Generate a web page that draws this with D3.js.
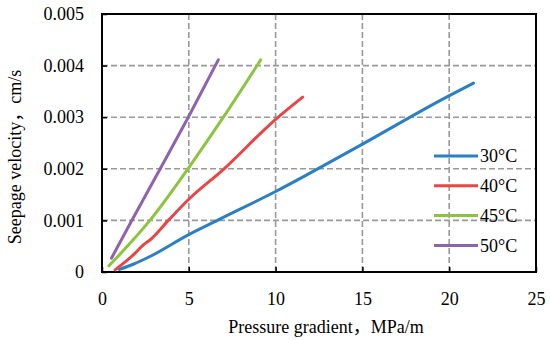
<!DOCTYPE html>
<html>
<head>
<meta charset="utf-8">
<script src="https://cdn.jsdelivr.net/npm/d3@7"></script>
<style>
  body { margin: 0; background: #fff; }
</style>
</head>
<body>
<div id="chart"></div>
<script>
// series names and values
const seriesNames = ["30°C", "40°C", "45°C", "50°C"];
const seriesColors = ["#2b7fc3", "#e84646", "#8cc43f", "#8e62ad"];

const x30 = [1.0, 1.8, 2.76, 4.97, 6.7, 10.0, 14.9, 19.9, 21.4];
const y30 = [0.00005, 0.00015, 0.0003, 0.00072, 0.00101, 0.00156, 0.00246, 0.0034, 0.00366];

const x40 = [0.75, 1.8, 2.4, 2.76, 3.82, 4.97, 7.0, 9.97, 11.56];
const y40 = [0.00004, 0.00033, 0.00053, 0.00062, 0.001, 0.0014, 0.00199, 0.00295, 0.00339];

const x45 = [0.4, 1.6, 2.76, 4.95, 6.99, 9.14];
const y45 = [0.00012, 0.00055, 0.001, 0.002, 0.003, 0.00411];

const x50 = [0.55, 1.7, 3.4, 4.97, 6.7];
const y50 = [0.00027, 0.00099, 0.00203, 0.003, 0.00411];

const xTicks = [0, 5, 10, 15, 20, 25];
const yTicks = [0, 0.001, 0.002, 0.003, 0.004, 0.005];

const xTitle = "Pressure gradient，MPa/m";
const yTitle = "Seepage velocity，cm/s";

const FONT = '"Liberation Serif", "Times New Roman", "Noto Sans CJK SC", serif';

const width = 550, height = 340;
const margin = { top: 14, right: 14, bottom: 68, left: 102 };
const innerW = width - margin.left - margin.right;
const innerH = height - margin.top - margin.bottom;

const series = [
  { name: seriesNames[0], xs: x30, ys: y30 },
  { name: seriesNames[1], xs: x40, ys: y40 },
  { name: seriesNames[2], xs: x45, ys: y45 },
  { name: seriesNames[3], xs: x50, ys: y50 },
].map((s, i) => ({
  name: s.name,
  color: seriesColors[i],
  points: s.xs.map((x, j) => ({ x: x, y: s.ys[j] })),
}));

const svg = d3.select("#chart")
  .append("svg")
  .attr("width", width)
  .attr("height", height);

const chart = svg.append("g")
  .attr("transform", `translate(${margin.left},${margin.top})`);

const xScale = d3.scaleLinear().domain([0, 25]).range([0, innerW]);
const yScale = d3.scaleLinear().domain([0, 0.005]).range([innerH, 0]);

// dashed grid
chart.append("g")
  .selectAll("line")
  .data(xTicks.slice(1, -1))
  .join("line")
  .attr("x1", d => xScale(d)).attr("x2", d => xScale(d))
  .attr("y1", 0).attr("y2", innerH)
  .attr("stroke", "#999").attr("stroke-width", 1.6)
  .attr("stroke-dasharray", "6,3");

chart.append("g")
  .selectAll("line")
  .data(yTicks.slice(1, -1))
  .join("line")
  .attr("x1", 0).attr("x2", innerW)
  .attr("y1", d => yScale(d)).attr("y2", d => yScale(d))
  .attr("stroke", "#999").attr("stroke-width", 1.6)
  .attr("stroke-dasharray", "6,3");

// axes with inside ticks
const xAxis = chart.append("g")
  .attr("transform", `translate(0,${innerH})`)
  .call(d3.axisBottom(xScale).tickValues(xTicks).tickSizeInner(-5).tickSizeOuter(0).tickPadding(13).tickFormat(d3.format("d")));

const yAxis = chart.append("g")
  .call(d3.axisLeft(yScale).tickValues(yTicks).tickSizeInner(-5).tickSizeOuter(0).tickPadding(18).tickFormat(d => d === 0 ? "0" : d3.format(".3f")(d)));

[xAxis, yAxis].forEach(ax => {
  ax.attr("font-family", FONT).attr("font-size", 18);
  ax.select(".domain").remove();
  ax.selectAll(".tick line").attr("stroke", "#000").attr("stroke-width", 1.5);
  ax.selectAll(".tick text")
    .style("font-family", FONT)
    .style("font-size", "18px")
    .attr("fill", "#000");
});
xAxis.selectAll(".tick text").attr("dy", "1.1em");

// frame
chart.append("rect")
  .attr("x", 0).attr("y", 0)
  .attr("width", innerW).attr("height", innerH)
  .attr("fill", "none").attr("stroke", "#000").attr("stroke-width", 2);

// lines
const line = d3.line()
  .x(d => xScale(d.x))
  .y(d => yScale(d.y))
  .curve(d3.curveMonotoneX);

chart.append("g")
  .selectAll("path")
  .data(series)
  .join("path")
  .attr("d", d => line(d.points))
  .attr("fill", "none")
  .attr("stroke", d => d.color)
  .attr("stroke-width", 3)
  .attr("stroke-linecap", "round");

// legend
const legend = chart.append("g")
  .attr("transform", `translate(${434 - margin.left},${156 - margin.top})`);

const items = legend.selectAll("g")
  .data(series)
  .join("g")
  .attr("transform", (d, i) => `translate(0,${i * 29.8})`);

items.append("line")
  .attr("x1", 0).attr("x2", 44)
  .attr("stroke", d => d.color)
  .attr("stroke-width", 3);

items.append("text")
  .attr("x", 46).attr("dy", "0.35em")
  .style("font-family", FONT)
  .style("font-size", "18px")
  .attr("fill", "#000")
  .text(d => d.name);

// axis titles
svg.append("text")
  .attr("x", 326).attr("y", 333)
  .attr("text-anchor", "middle")
  .style("font-family", FONT)
  .style("font-size", "18px")
  .text(xTitle);

svg.append("text")
  .attr("transform", "translate(21,157) rotate(-90)")
  .attr("text-anchor", "middle")
  .style("font-family", FONT)
  .style("font-size", "18px")
  .text(yTitle);
</script>
</body>
</html>
